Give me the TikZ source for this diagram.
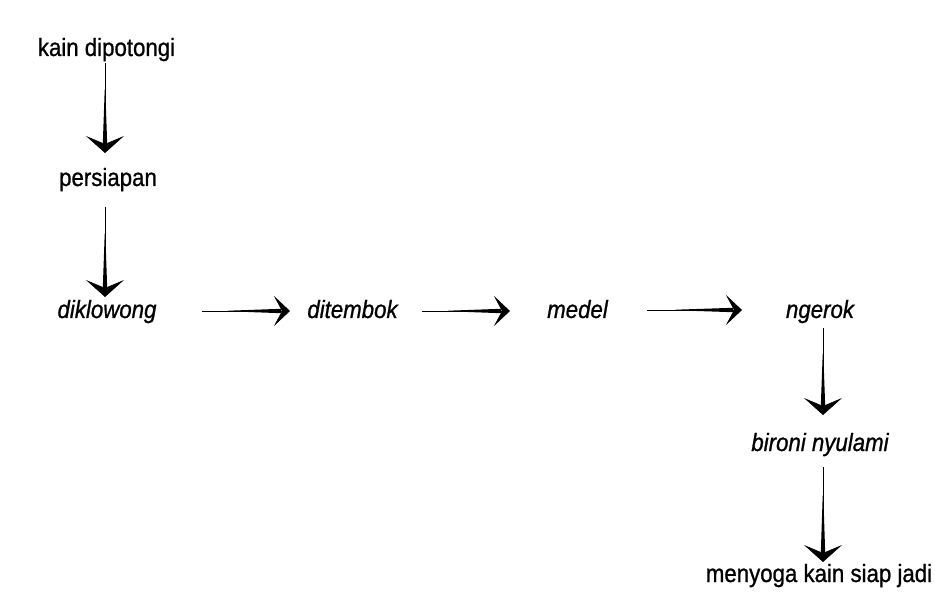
\documentclass[tikz,border=0pt]{standalone}
\usepackage{fontspec}
\setmainfont{Liberation Sans}[FakeStretch=0.89,FakeBold=0.9]
\usetikzlibrary{arrows.meta,calc}

\tikzset{
  lbl/.style={font=\fontsize{25}{30}\selectfont, inner sep=0pt, anchor=base},
  termlbl/.style={lbl, font=\fontsize{25}{30}\selectfont\itshape},
  vhead/.style={-{Stealth[length=17pt,width=38pt,inset=8pt]}},
  hhead/.style={-{Stealth[length=16pt,width=30pt,inset=8pt]}},
}

% connector: thin shaft that swells towards a swept chevron head
\newcommand\linkarrow[3]{%
  \coordinate (lkA) at ($(#1)!0.3!(#2)$);
  \coordinate (lkB) at ($(#2)!9pt!(#1)$);
  \fill ($(lkA)!0.3pt!90:(#2)$) -- ($(lkB)!2.2pt!90:(#2)$)
        -- ($(lkB)!2.2pt!-90:(#2)$) -- ($(lkA)!0.3pt!-90:(#2)$) -- cycle;
  \draw[line width=0.6pt,#3] (#1) -- (#2);
}

\begin{document}
\begin{tikzpicture}[x=1pt,y=-1pt]
\useasboundingbox (0,0) rectangle (935,604);

% steps
\node[lbl]     (kain)     at (106.5,56) {kain dipotongi};
\node[lbl]     (persiap)  at (108,186)  {persiapan};
\node[termlbl] (diklo)    at (107,318)  {diklowong};
\node[termlbl] (ditem)    at (352.5,318){ditembok};
\node[termlbl] (medel)    at (577.5,318){medel};
\node[termlbl] (ngerok)   at (820,318)  {ngerok};
\node[termlbl] (bironi)   at (820,451)  {bironi nyulami};
\node[lbl]     (menyoga)  at (819,582)  {menyoga kain siap jadi};

% connector ends
\coordinate (v1s) at (105,63);  \coordinate (v1e) at (105,153);
\coordinate (v2s) at (105,207); \coordinate (v2e) at (105,297);
\coordinate (h1s) at (202,311); \coordinate (h1e) at (290,311);
\coordinate (h2s) at (422,311); \coordinate (h2e) at (510,311);
\coordinate (h3s) at (647,310); \coordinate (h3e) at (742,310);
\coordinate (v3s) at (823,328); \coordinate (v3e) at (823,415);
\coordinate (v4s) at (823,467); \coordinate (v4e) at (823,562);

\linkarrow{v1s}{v1e}{vhead}
\linkarrow{v2s}{v2e}{vhead}
\linkarrow{h1s}{h1e}{hhead}
\linkarrow{h2s}{h2e}{hhead}
\linkarrow{h3s}{h3e}{hhead}
\linkarrow{v3s}{v3e}{vhead}
\linkarrow{v4s}{v4e}{vhead}
\end{tikzpicture}
\end{document}
